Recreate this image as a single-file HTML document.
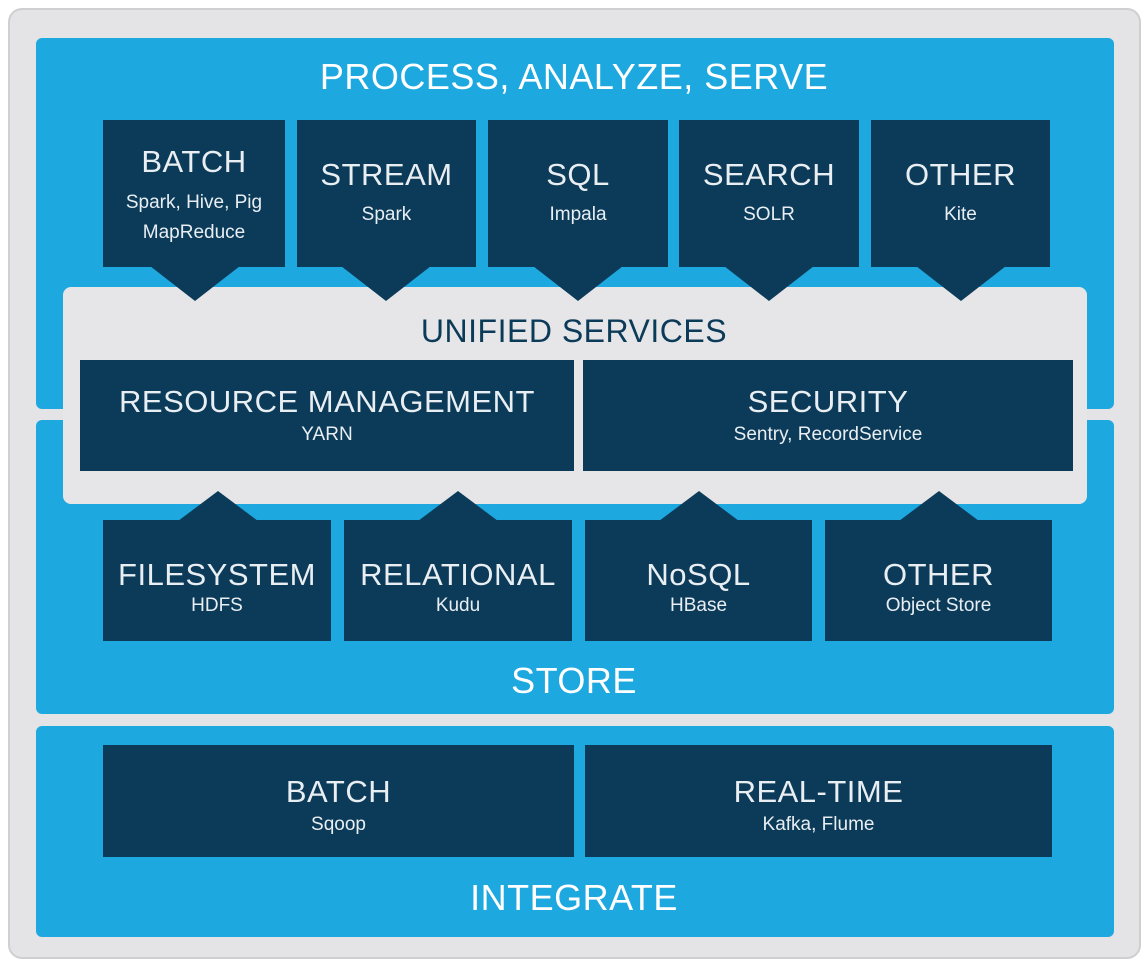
<!DOCTYPE html>
<html><head><meta charset="utf-8"><style>
body{margin:0;width:1148px;height:964px;background:#fff;position:relative;overflow:hidden;font-family:"Liberation Sans",sans-serif}
div{position:absolute;box-sizing:border-box}
.blue{background:#1ea8e0;border-radius:6px}
.d{background:#0c3b59;color:#e8eef2;text-align:center}
.t{position:absolute;left:0;right:0;font-size:31px;line-height:34px;letter-spacing:0.5px}
.s{position:absolute;left:0;right:0;font-size:19px;line-height:30px}
.h{color:#fff;text-align:center;font-size:36px;left:0;right:0;letter-spacing:0.5px}
svg{position:absolute;left:0;top:0}
</style></head><body>
<div style="left:8px;top:8px;width:1133px;height:951px;background:#e4e4e6;border:2px solid #cfcfd1;border-radius:14px"></div>
<div class="blue" style="left:36px;top:38px;width:1078px;height:371px"></div>
<div class="blue" style="left:36px;top:420px;width:1078px;height:294px"></div>
<div class="blue" style="left:36px;top:726px;width:1078px;height:211px"></div>
<div class="h" style="top:56px">PROCESS, ANALYZE, SERVE</div>
<div class="h" style="top:660px">STORE</div>
<div class="h" style="top:877px">INTEGRATE</div>
<div style="left:63px;top:287px;width:1024px;height:217px;background:#e6e6e8;border-radius:8px"></div>
<div style="left:0;right:0;top:313px;text-align:center;color:#0c3b59;font-size:32px;letter-spacing:0.5px">UNIFIED SERVICES</div>
<svg width="1148" height="964">
<g fill="#0c3b59">
<polygon points="150,266 240,266 195,301"/>
<polygon points="341,266 431,266 386,301"/>
<polygon points="533,266 623,266 578,301"/>
<polygon points="724,266 814,266 769,301"/>
<polygon points="916,266 1006,266 961,301"/>
<polygon points="178,521 258,521 218,491"/>
<polygon points="418,521 498,521 458,491"/>
<polygon points="659,521 739,521 699,491"/>
<polygon points="899,521 979,521 939,491"/>
</g></svg>
<div class="d" style="left:103px;top:120px;width:182px;height:147px"><div class="t" style="top:25px">BATCH</div><div class="s" style="top:188px;top:68px">Spark, Hive, Pig</div><div class="s" style="top:98px">MapReduce</div></div>
<div class="d" style="left:297px;top:120px;width:179px;height:147px"><div class="t" style="top:38px">STREAM</div><div class="s" style="top:80px">Spark</div></div>
<div class="d" style="left:488px;top:120px;width:180px;height:147px"><div class="t" style="top:38px">SQL</div><div class="s" style="top:80px">Impala</div></div>
<div class="d" style="left:679px;top:120px;width:180px;height:147px"><div class="t" style="top:38px">SEARCH</div><div class="s" style="top:80px">SOLR</div></div>
<div class="d" style="left:871px;top:120px;width:179px;height:147px"><div class="t" style="top:38px">OTHER</div><div class="s" style="top:80px">Kite</div></div>
<div class="d" style="left:80px;top:360px;width:494px;height:111px"><div class="t" style="top:25px">RESOURCE MANAGEMENT</div><div class="s" style="top:60px">YARN</div></div>
<div class="d" style="left:583px;top:360px;width:490px;height:111px"><div class="t" style="top:25px">SECURITY</div><div class="s" style="top:60px">Sentry, RecordService</div></div>
<div class="d" style="left:103px;top:520px;width:228px;height:121px"><div class="t" style="top:38px">FILESYSTEM</div><div class="s" style="top:71px">HDFS</div></div>
<div class="d" style="left:344px;top:520px;width:228px;height:121px"><div class="t" style="top:38px">RELATIONAL</div><div class="s" style="top:71px">Kudu</div></div>
<div class="d" style="left:585px;top:520px;width:227px;height:121px"><div class="t" style="top:38px">NoSQL</div><div class="s" style="top:71px">HBase</div></div>
<div class="d" style="left:825px;top:520px;width:227px;height:121px"><div class="t" style="top:38px">OTHER</div><div class="s" style="top:71px">Object Store</div></div>
<div class="d" style="left:103px;top:745px;width:471px;height:112px"><div class="t" style="top:30px">BATCH</div><div class="s" style="top:65px">Sqoop</div></div>
<div class="d" style="left:585px;top:745px;width:467px;height:112px"><div class="t" style="top:30px">REAL-TIME</div><div class="s" style="top:65px">Kafka, Flume</div></div>
</body></html>
